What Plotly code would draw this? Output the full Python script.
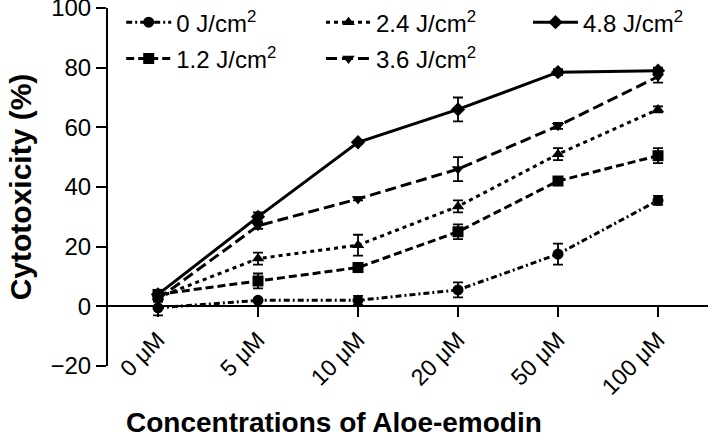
import plotly.graph_objects as go

CONCENTRATIONS = ["0 μM", "5 μM", "10 μM", "20 μM", "50 μM", "100 μM"]

DOSE_0 = [-0.5, 2, 2, 5.5, 17.5, 35.5]
DOSE_0_ERR = [2.5, 0.5, 1.5, 2.5, 3.5, 1.5]
DOSE_1_2 = [4, 8.5, 13, 25, 42, 50.5]
DOSE_1_2_ERR = [1, 2.5, 1.5, 2.5, 1, 2.5]
DOSE_2_4 = [3, 16, 20.5, 33.5, 51, 66]
DOSE_2_4_ERR = [1, 2, 3.5, 2, 2, 1]
DOSE_3_6 = [2.5, 27, 36, 46, 60.5, 77]
DOSE_3_6_ERR = [1, 1, 0.5, 4, 1, 2]
DOSE_4_8 = [4, 30, 55, 66, 78.5, 79]
DOSE_4_8_ERR = [1, 1.5, 0.5, 4, 1, 1]

FONT = "Liberation Sans, Arial, sans-serif"

# name, values, errors, marker, dash, legend column
series = [
    ("0 J/cm<sup>2</sup>", DOSE_0, DOSE_0_ERR, "circle", "6px,3px,2px,3px", "legend"),
    ("1.2 J/cm<sup>2</sup>", DOSE_1_2, DOSE_1_2_ERR, "square", "8px,4px", "legend"),
    ("2.4 J/cm<sup>2</sup>", DOSE_2_4, DOSE_2_4_ERR, "triangle-up", "4px,4px", "legend2"),
    ("3.6 J/cm<sup>2</sup>", DOSE_3_6, DOSE_3_6_ERR, "triangle-down", "11px,5px", "legend2"),
    ("4.8 J/cm<sup>2</sup>", DOSE_4_8, DOSE_4_8_ERR, "diamond", "solid", "legend3"),
]

fig = go.Figure()
for name, vals, err, sym, dash, leg in series:
    fig.add_trace(go.Scatter(
        x=CONCENTRATIONS, y=vals, name=name, mode="lines+markers",
        line=dict(color="black", width=3, dash=dash),
        marker=dict(symbol=sym, size=11, color="black"),
        error_y=dict(type="data", array=err, color="black", thickness=1.8, width=5),
        legend=leg, legendgroup=name,
    ))

leg_style = dict(orientation="v", xanchor="left", yanchor="top", y=1.022,
                 itemwidth=45, tracegroupgap=2,
                 font=dict(family=FONT, size=24, color="black"),
                 bgcolor="rgba(0,0,0,0)", itemclick=False)

fig.update_layout(
    width=709, height=440,
    margin=dict(l=108, r=1, t=8, b=74, autoexpand=False),
    plot_bgcolor="white", paper_bgcolor="white",
    font=dict(family=FONT, color="black"),
    legend=dict(x=0.022, **leg_style),
    legend2=dict(x=0.355, **leg_style),
    legend3=dict(x=0.70, **leg_style),
    xaxis=dict(
        type="category", range=[-0.5, 5.5],
        anchor="free", position=1/6, automargin=False,
        showline=True, linecolor="black", linewidth=2,
        ticks="outside", ticklen=10, tickwidth=2, tickcolor="black",
        tickangle=-45, ticklabelstandoff=0,
        tickfont=dict(family=FONT, size=23),
        showgrid=False, zeroline=False,
    ),
    yaxis=dict(
        range=[-20, 100], tickvals=[-20, 0, 20, 40, 60, 80, 100], automargin=False,
        ticklabeloverflow="allow",
        showline=True, linecolor="black", linewidth=2,
        ticks="outside", ticklen=10, tickwidth=2, tickcolor="black",
        tickfont=dict(family=FONT, size=24),
        showgrid=False, zeroline=False,
        title=dict(text="<b>Cytotoxicity (%)</b>", font=dict(family=FONT, size=30), standoff=10),
    ),
    annotations=[dict(
        text="<b>Concentrations of Aloe-emodin</b>", xref="paper", yref="paper",
        x=0.377, y=-0.159, xanchor="center", yanchor="middle", showarrow=False,
        font=dict(family=FONT, size=28, color="black"),
    )],
)

# drop the page's default body margin so the figure sits at the window's corner
fig.write_html("out.html", config={"displayModeBar": False},
               post_script="document.body.style.margin = '0';")
